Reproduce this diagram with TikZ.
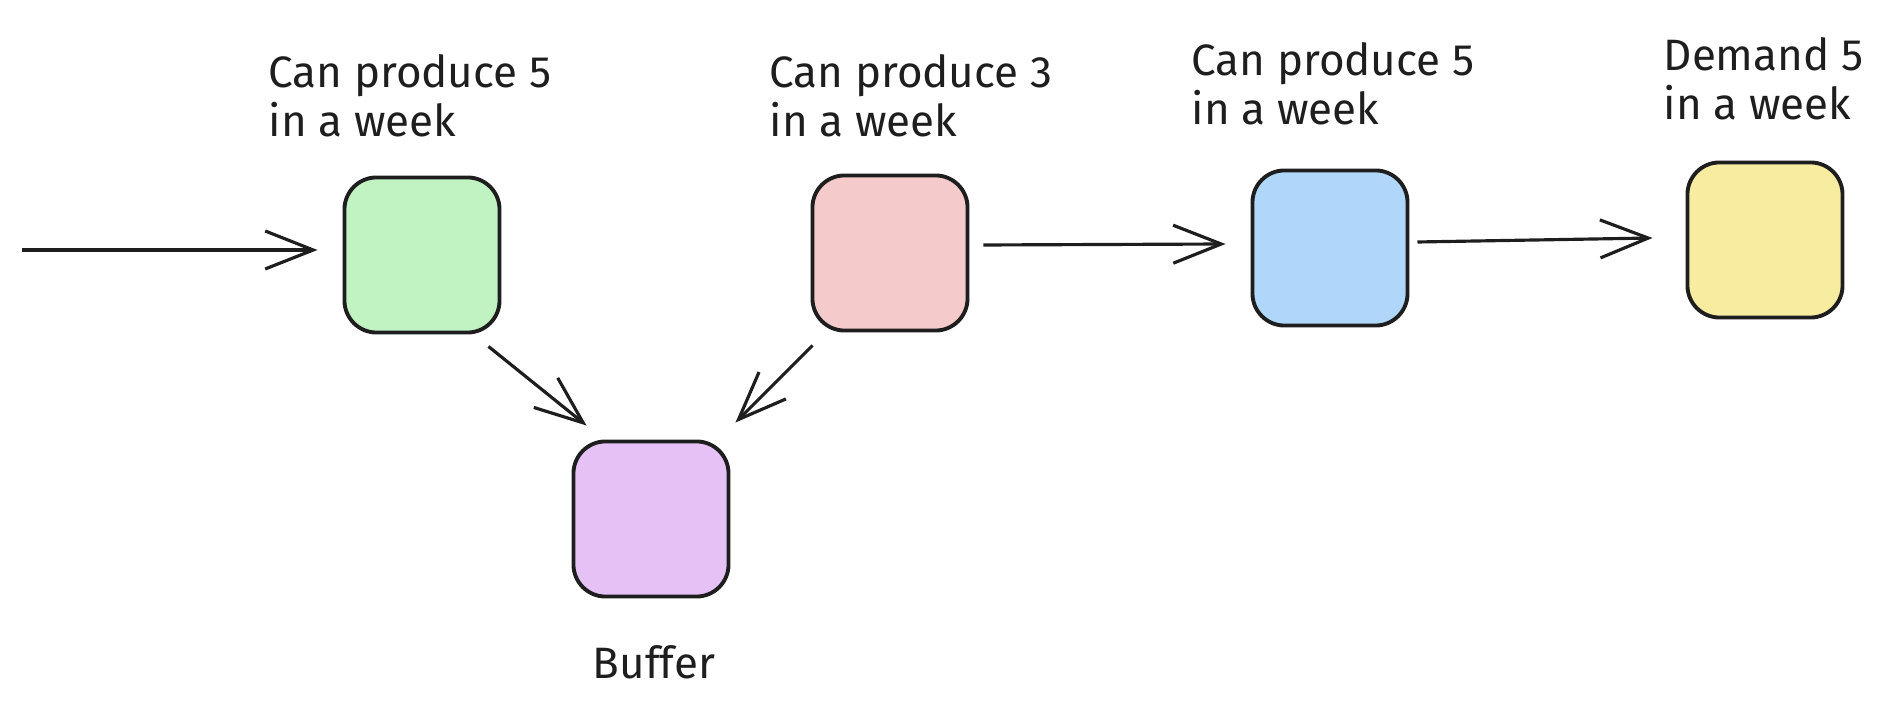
\documentclass[tikz,border=0pt]{standalone}
\usepackage{fontspec}
\setmainfont{Fira Sans}
\usetikzlibrary{arrows.meta,calc}
\definecolor{ink}{HTML}{1E1E1E}
\definecolor{cgreen}{RGB}{192,242,194}
\definecolor{cred}{RGB}{244,203,202}
\definecolor{cblue}{RGB}{176,215,250}
\definecolor{cyellow}{RGB}{248,236,160}
\definecolor{cpurple}{RGB}{230,193,245}
\begin{document}
\begin{tikzpicture}[x=0.01cm,y=-0.01cm,
  box/.style={draw=ink,line width=1.1pt,rounded corners=0.32cm,minimum width=1.55cm,minimum height=1.55cm,inner sep=0pt},
  lbl/.style={anchor=north west,align=left,font=\fontsize{12.5}{14}\selectfont,text=ink,inner sep=0pt},
  flow/.style={draw=ink,line width=0.9pt,-{Straight Barb[length=4.8mm,width=3.8mm,line width=0.9pt]}}]
\useasboundingbox (0,0) rectangle (1896,704);
\node[box,fill=cgreen]  (green)  at (422,255) {};
\node[box,fill=cred]    (red)    at (890,253) {};
\node[box,fill=cblue]   (blue)   at (1330,248) {};
\node[box,fill=cyellow] (yellow) at (1765,240) {};
\node[box,fill=cpurple] (purple) at (651,519) {};
\node[lbl] (l1) at (268,54) {Can produce 5\\in a week};
\node[lbl] (l2) at (769,54) {Can produce 3\\in a week};
\node[lbl] (l3) at (1191,42) {Can produce 5\\in a week};
\node[lbl] (l4) at (1663,37) {Demand 5\\in a week};
\node[lbl,anchor=north] (l5) at (654,645) {Buffer};
\coordinate (src) at (22,250);
\draw[flow,shorten >=0.25cm] (src) -- (src -| green.west);
\draw[flow] ($(red.east)+(14,-8)$) -- ($(blue.west)+(-25,-4)$);
\draw[flow] ($(blue.east)+(8,-6)$) -- ($(yellow.west)+(-33,-2)$);
\draw[flow] ($(green.south east)+(-13,12)$) -- ($(purple.north west)+(15,-14)$);
\draw[flow] ($(red.south west)+(2,13)$) -- ($(purple.north east)+(5,-17)$);
\end{tikzpicture}
\end{document}
